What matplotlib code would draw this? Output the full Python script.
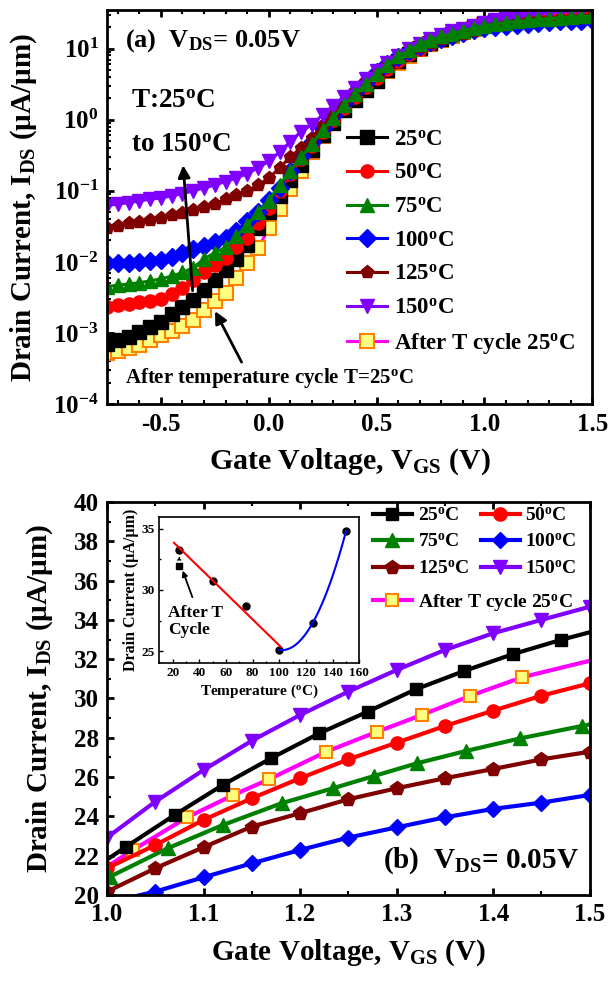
import numpy as np
import matplotlib
matplotlib.use("Agg")
from matplotlib import pyplot as plt
from matplotlib.ticker import MultipleLocator, LogLocator, NullFormatter

plt.rcParams['font.family'] = 'Liberation Serif'
plt.rcParams['font.weight'] = 'bold'
plt.rcParams['axes.labelweight'] = 'bold'
plt.rcParams['mathtext.fontset'] = 'custom'
plt.rcParams['mathtext.rm'] = 'Liberation Serif:bold'
plt.rcParams['mathtext.bf'] = 'Liberation Serif:bold'
plt.rcParams['mathtext.it'] = 'Liberation Serif:bold'
plt.rcParams['mathtext.default'] = 'rm'
plt.rcParams['axes.unicode_minus'] = False

# ---- panel (a): transfer curves, VGS = -0.75 ... 1.5 V, step 0.05 V ----
vgs = np.round(np.arange(-0.75, 1.5001, 0.05), 2)

i_25 = [7.1e-4, 7.9e-4, 8.9e-4, 1.02e-3, 1.2e-3, 1.45e-3, 1.86e-3, 2.34e-3, 2.95e-3, 4.07e-3,
        5.6e-3, 7.8e-3, 1.1e-2, 1.74e-2, 3.0e-2, 5.0e-2, 8.5e-2, 0.14, 0.23, 0.38,
        0.60, 0.91, 1.35, 1.9, 2.6, 3.5, 5.0, 6.6, 8.5, 10.2,
        12.0, 13.8, 15.8, 17.8, 20.0,
        21.8, 23.4, 25.0, 26.4, 27.7, 28.9, 30.0, 31.0, 31.9, 32.7, 33.4]
i_50 = [2.3e-3, 2.5e-3, 2.6e-3, 2.7e-3, 2.8e-3, 3.0e-3, 3.5e-3, 4.3e-3, 5.5e-3, 7.2e-3,
        9.1e-3, 1.15e-2, 1.6e-2, 2.2e-2, 3.5e-2, 5.8e-2, 0.10, 0.17, 0.28, 0.43,
        0.66, 1.0, 1.48, 2.1, 2.9, 3.9, 5.1, 6.6, 8.3, 10.0,
        11.7, 13.5, 15.1, 17.0, 18.6,
        21.4, 22.5, 23.8, 24.9, 25.9, 26.9, 27.8, 28.6, 29.4, 30.1, 30.8]
i_75 = [4.5e-3, 4.7e-3, 4.9e-3, 5.1e-3, 5.4e-3, 5.8e-3, 6.3e-3, 7.1e-3, 8.3e-3, 1.1e-2,
        1.35e-2, 1.6e-2, 2.3e-2, 3.3e-2, 5.0e-2, 7.2e-2, 0.12, 0.19, 0.30, 0.45,
        0.71, 1.07, 1.62, 2.3, 3.2, 4.4, 5.9, 7.8, 9.5, 11.5,
        13.2, 14.8, 16.2, 17.8, 19.5,
        20.9, 22.1, 23.2, 24.1, 24.9, 25.7, 26.4, 27.1, 27.7, 28.2, 28.7]
i_100 = [9.5e-3, 9.5e-3, 9.8e-3, 1.0e-2, 1.02e-2, 1.07e-2, 1.17e-2, 1.35e-2, 1.5e-2, 1.7e-2,
         1.9e-2, 2.2e-2, 2.75e-2, 3.7e-2, 5.1e-2, 7.4e-2, 0.11, 0.19, 0.31, 0.48,
         0.76, 1.17, 1.74, 2.45, 3.4, 4.6, 6.0, 7.6, 9.1, 10.7,
         12.3, 13.8, 15.1, 16.6, 18.2,
         19.6, 20.2, 20.9, 21.6, 22.3, 22.9, 23.4, 24.0, 24.4, 24.7, 25.1]
i_125 = [3.0e-2, 3.2e-2, 3.5e-2, 3.6e-2, 3.9e-2, 4.2e-2, 4.5e-2, 4.9e-2, 5.4e-2, 5.9e-2,
         6.6e-2, 7.6e-2, 8.7e-2, 0.10, 0.12, 0.15, 0.21, 0.30, 0.40, 0.56,
         0.83, 1.23, 1.78, 2.5, 3.5, 4.6, 5.9, 7.4, 8.9, 10.5,
         12.0, 13.5, 14.8, 16.2, 17.8,
         20.2, 21.4, 22.4, 23.5, 24.2, 24.9, 25.4, 25.9, 26.4, 26.9, 27.3]
i_150 = [6.2e-2, 6.5e-2, 6.8e-2, 7.2e-2, 7.6e-2, 7.9e-2, 8.5e-2, 9.1e-2, 0.100, 0.110,
         0.120, 0.135, 0.151, 0.174, 0.21, 0.26, 0.35, 0.49, 0.68, 0.85,
         1.17, 1.58, 2.1, 2.8, 3.7, 4.9, 6.3, 7.9, 9.8, 11.7,
         13.8, 15.5, 17.4, 19.1, 20.9,
         22.9, 24.8, 26.4, 27.9, 29.2, 30.4, 31.5, 32.5, 33.3, 34.0, 34.7]
i_after = [5.2e-4, 5.6e-4, 6.2e-4, 6.9e-4, 7.9e-4, 9.3e-4, 1.07e-3, 1.26e-3, 1.55e-3, 2.1e-3,
           2.8e-3, 3.7e-3, 5.9e-3, 9.5e-3, 1.55e-2, 2.95e-2, 5.5e-2, 0.105, 0.19, 0.35,
           0.59, 0.93, 1.38, 1.95, 2.6, 3.5, 4.8, 6.3, 7.9, 9.8,
           11.5, 13.2, 15.1, 17.0, 19.1,
           21.4, 23.0, 24.4, 25.5, 26.7, 27.7, 28.7, 29.6, 30.6, 31.3, 31.9]

# ---- panel (b): zoom 1.0 ... 1.5 V (marker positions as in the original) ----
vb_25 = [1.0, 1.02, 1.07, 1.12, 1.17, 1.22, 1.27, 1.32, 1.37, 1.42, 1.47, 1.5]
ib_25 = [21.8, 22.46, 24.07, 25.60, 26.96, 28.23, 29.33, 30.47, 31.40, 32.25, 32.98, 33.37]
vb_std = [1.0, 1.05, 1.1, 1.15, 1.2, 1.25, 1.3, 1.35, 1.4, 1.45, 1.5]
ib_50 = [21.36, 22.54, 23.82, 24.92, 25.94, 26.90, 27.75, 28.60, 29.38, 30.14, 30.77]
ib_100 = [19.6, 20.17, 20.90, 21.61, 22.29, 22.92, 23.44, 23.95, 24.38, 24.70, 25.09]
ib_125 = [20.17, 21.36, 22.43, 23.48, 24.16, 24.87, 25.43, 25.94, 26.41, 26.90, 27.29]
ib_150 = [22.92, 24.75, 26.36, 27.85, 29.16, 30.35, 31.45, 32.47, 33.32, 34.0, 34.67]
vb_75 = [1.003, 1.063, 1.12, 1.181, 1.234, 1.277, 1.321, 1.372, 1.428, 1.492, 1.5]
ib_75 = [20.93, 22.38, 23.56, 24.67, 25.43, 26.06, 26.70, 27.33, 27.97, 28.60, 28.68]
vb_after = [1.0, 1.027, 1.083, 1.131, 1.168, 1.227, 1.28, 1.326, 1.376, 1.43, 1.5]
ib_after = [21.44, 22.29, 23.95, 25.09, 25.89, 27.29, 28.31, 29.16, 30.13, 31.08, 31.92]

# ---- inset: current at VGS = 1.5 V vs temperature ----
temps = [25, 50, 75, 100, 125, 150]
i_temp = [33.3, 30.7, 28.7, 25.1, 27.3, 34.8]
t_after = [25]
i_after_t = [32.0]

deg = r'$^{o}$C'
styles = {
    '25': dict(color='black', marker='s', mfc='black', mec='black'),
    '50': dict(color='red', marker='o', mfc='red', mec='red'),
    '75': dict(color='green', marker='^', mfc='green', mec='green'),
    '100': dict(color='blue', marker='D', mfc='blue', mec='blue'),
    '125': dict(color='#800000', marker='p', mfc='#800000', mec='#800000'),
    '150': dict(color='#8000ff', marker='v', mfc='#8000ff', mec='#8000ff'),
    'after': dict(color='#ff00ff', marker='s', mfc='#ffff80', mec='#ff8000', mew=1.5),
}
labels = {'25': '25' + deg, '50': '50' + deg, '75': '75' + deg, '100': '100' + deg,
          '125': '125' + deg, '150': '150' + deg, 'after': 'After T cycle 25' + deg}

fig = plt.figure(figsize=(6.08, 9.81), dpi=100)

# ================= panel (a) =================
ax1 = fig.add_axes([0.176, 0.588, 0.798, 0.402])
top_data = {'after': i_after, '25': i_25, '50': i_50, '100': i_100,
            '125': i_125, '150': i_150, '75': i_75}
h1 = {}
for key, vals in top_data.items():
    h1[key], = ax1.plot(vgs, vals, lw=2.2, ms=9.5, label=labels[key], **styles[key])
ax1.set_yscale('log')
ax1.set_xlim(-0.75, 1.5)
ax1.set_ylim(1e-4, 35)
ax1.xaxis.set_major_locator(MultipleLocator(0.5))
ax1.xaxis.set_minor_locator(MultipleLocator(0.1))
ax1.yaxis.set_major_locator(LogLocator(base=10, numticks=10))
ax1.yaxis.set_minor_locator(LogLocator(base=10, subs=np.arange(2, 10), numticks=20))
ax1.yaxis.set_minor_formatter(NullFormatter())
ax1.set_xlabel(r'Gate Voltage, V$_{GS}$ (V)', fontsize=21.5)
ax1.set_ylabel(r'Drain Current, I$_{DS}$ (µA/µm)', fontsize=21)
ax1.xaxis.set_label_coords(0.5, -0.108)
ax1.yaxis.set_label_coords(-0.14, 0.5)

order = ['25', '50', '75', '100', '125', '150', 'after']
ax1.legend([h1[k] for k in order], [labels[k] for k in order], loc='upper left',
           bbox_to_anchor=(0.495, 0.697), frameon=False, fontsize=16.5,
           handlelength=1.75, handletextpad=0.3, labelspacing=0.55,
           borderpad=0, borderaxespad=0)

ax1.text(0.037, 0.906, r'(a)  V$_{DS}$= 0.05V', transform=ax1.transAxes, fontsize=19)
ax1.text(0.050, 0.751, 'T:25' + deg, transform=ax1.transAxes, fontsize=19.5)
ax1.text(0.050, 0.640, 'to 150' + deg, transform=ax1.transAxes, fontsize=19.5)
ax1.text(0.037, 0.053, 'After temperature cycle T=25' + deg, transform=ax1.transAxes,
         fontsize=15)
ax1.annotate('', xy=(-0.398, 0.25), xytext=(-0.352, 3.6e-3),
             arrowprops=dict(arrowstyle='-|>', color='black', lw=2, mutation_scale=18))
ax1.annotate('', xy=(-0.255, 2.2e-3), xytext=(-0.12, 3.6e-4),
             arrowprops=dict(arrowstyle='-|>', color='black', lw=2, mutation_scale=18))

# ================= panel (b) =================
ax2 = fig.add_axes([0.176, 0.0877, 0.794, 0.4006])
h2 = {}
h2['after'], = ax2.plot(vb_after, ib_after, lw=3, ms=9, markevery=slice(1, -1), **styles['after'])
h2['25'], = ax2.plot(vb_25, ib_25, lw=3, ms=9, markevery=slice(1, -1), **styles['25'])
h2['50'], = ax2.plot(vb_std, ib_50, lw=3, ms=9.5, **styles['50'])
h2['75'], = ax2.plot(vb_75, ib_75, lw=3, ms=9.5, markevery=slice(0, -1), **styles['75'])
h2['100'], = ax2.plot(vb_std, ib_100, lw=3, ms=8, **styles['100'])
h2['125'], = ax2.plot(vb_std, ib_125, lw=3, ms=10, **styles['125'])
h2['150'], = ax2.plot(vb_std, ib_150, lw=3, ms=9.5, **styles['150'])
ax2.set_xlim(1.0, 1.5)
ax2.set_ylim(20, 40)
ax2.xaxis.set_major_locator(MultipleLocator(0.1))
ax2.xaxis.set_minor_locator(MultipleLocator(0.05))
ax2.yaxis.set_major_locator(MultipleLocator(2))
ax2.yaxis.set_minor_locator(MultipleLocator(1))
ax2.set_xlabel(r'Gate Voltage, V$_{GS}$ (V)', fontsize=21)
ax2.set_ylabel(r'Drain Current, I$_{DS}$ (µA/µm)', fontsize=21)
ax2.xaxis.set_label_coords(0.5, -0.108)
ax2.yaxis.set_label_coords(-0.108, 0.5)

row_keys = ['25', '75', '125', '50', '100', '150']
leg = ax2.legend([h2[k] for k in row_keys], [labels[k] for k in row_keys], ncol=2,
                 loc='upper left', bbox_to_anchor=(0.551, 0.987), frameon=False,
                 fontsize=14, handlelength=2.0, handletextpad=0.3, labelspacing=0.45,
                 columnspacing=0.6, borderpad=0, borderaxespad=0)
ax2.add_artist(leg)
ax2.legend([h2['after']], [labels['after']], loc='upper left',
           bbox_to_anchor=(0.551, 0.771), frameon=False, fontsize=14,
           handlelength=2.0, handletextpad=0.3, borderpad=0, borderaxespad=0)
ax2.text(0.571, 0.069, r'(b)  V$_{DS}$= 0.05V', transform=ax2.transAxes, fontsize=21)

for ax in (ax1, ax2):
    for s in ax.spines.values():
        s.set_linewidth(2)
    ax.tick_params(which='major', direction='in', length=5, width=2, labelsize=18, pad=6,
                   top=True, right=False)
    ax.tick_params(which='minor', direction='in', length=3, width=1.5, top=True, right=False)

# ================= inset =================
ax3 = fig.add_axes([0.262, 0.3239, 0.329, 0.1494])
ax3.plot(temps, i_temp, 'o', color='black', ms=5)
ax3.plot(t_after, i_after_t, 's', color='black', ms=4.5)
lin = np.polyfit(temps[:4], i_temp[:4], 1)
t_lin = np.linspace(21, 101, 20)
ax3.plot(t_lin, np.polyval(lin, t_lin), color='red', lw=1.5)
quad = np.polyfit(temps[3:], i_temp[3:], 2)
t_q = np.linspace(100, 150, 60)
ax3.plot(t_q, np.polyval(quad, t_q), color='blue', lw=1.5)
ax3.set_xlim(10, 160)
ax3.set_ylim(24, 36)
ax3.xaxis.set_major_locator(MultipleLocator(20))
ax3.xaxis.set_minor_locator(MultipleLocator(10))
ax3.yaxis.set_major_locator(MultipleLocator(5))
ax3.yaxis.set_minor_locator(MultipleLocator(2.5))
ax3.tick_params(which='both', direction='in', labelsize=9.5, width=1, pad=3)
ax3.tick_params(which='major', length=3)
ax3.tick_params(which='minor', length=1.5)
for s in ax3.spines.values():
    s.set_linewidth(1.2)
ax3.set_xlabel('Temperature (' + deg + ')', fontsize=11, labelpad=2)
ax3.set_ylabel('Drain Current (µA/µm)', fontsize=11.5, labelpad=2)
ax3.text(16.5, 28.8, 'After T\nCycle', fontsize=12.5, va='top', linespacing=1.1)
ax3.annotate('', xy=(26.8, 31.8), xytext=(35.5, 29.2),
             arrowprops=dict(arrowstyle='-|>', color='black', lw=1.3, mutation_scale=8))
ax3.annotate('', xy=(25, 33.0), xytext=(25, 32.3),
             arrowprops=dict(arrowstyle='-|>', color='black', lw=0.8, ls=':', mutation_scale=5))

fig.savefig('out.png', dpi=100)
